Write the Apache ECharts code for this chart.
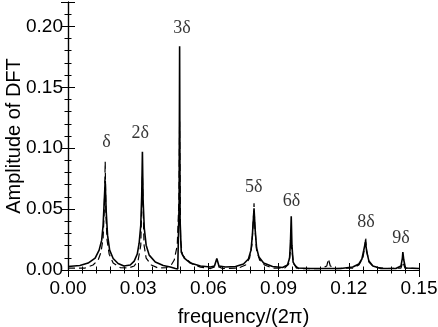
<!DOCTYPE html>
<html>
<head>
<meta charset="utf-8">
<script src="https://cdn.jsdelivr.net/npm/echarts@6/dist/echarts.min.js"></script>
<style>
  html, body { margin: 0; padding: 0; background: #fff; }
  #chart { width: 438px; height: 327px; }
</style>
</head>
<body>
<div id="chart"></div>
<script>
  // solid curve (frequency, amplitude)
  var solidFreq = [0.0000,0.0051,0.0086,0.0116,0.0133,0.0144,0.0150,0.0154,0.0159,0.0163,0.0169,0.0178,0.0193,0.0214,0.0239,0.0266,0.0283,0.0296,0.0304,0.0311,0.0315,0.0318,0.0321,0.0326,0.0334,0.0347,0.0373,0.0407,0.0437,0.0459,0.0469,0.0475,0.0477,0.0479,0.0484,0.0497,0.0523,0.0566,0.0609,0.0626,0.0636,0.0645,0.0673,0.0716,0.0750,0.0771,0.0782,0.0788,0.0795,0.0800,0.0806,0.0816,0.0836,0.0874,0.0917,0.0938,0.0947,0.0951,0.0954,0.0957,0.0962,0.0977,0.1037,0.1101,0.1166,0.1217,0.1243,0.1256,0.1264,0.1271,0.1277,0.1286,0.1303,0.1337,0.1401,0.1423,0.1429,0.1431,0.1435,0.1442,0.1500];
  var solidAmp  = [0.0029,0.0037,0.0057,0.0098,0.0163,0.0245,0.0367,0.0530,0.0735,0.0490,0.0286,0.0163,0.0094,0.0053,0.0033,0.0041,0.0073,0.0131,0.0220,0.0367,0.0610,0.0971,0.0570,0.0343,0.0204,0.0122,0.0065,0.0037,0.0024,0.0012,0.0008,0.0570,0.1837,0.0410,0.0147,0.0098,0.0057,0.0033,0.0024,0.0033,0.0094,0.0033,0.0024,0.0029,0.0049,0.0090,0.0163,0.0286,0.0506,0.0327,0.0180,0.0106,0.0057,0.0029,0.0020,0.0041,0.0098,0.0245,0.0441,0.0204,0.0065,0.0016,0.0012,0.0012,0.0012,0.0024,0.0049,0.0090,0.0163,0.0229,0.0147,0.0073,0.0033,0.0012,0.0012,0.0033,0.0098,0.0147,0.0082,0.0016,0.0012];

  // dashed curve (frequency, amplitude)
  var dashedFreq = [0.0000,0.0073,0.0107,0.0129,0.0141,0.0150,0.0155,0.0159,0.0162,0.0167,0.0176,0.0193,0.0223,0.0257,0.0283,0.0300,0.0311,0.0318,0.0325,0.0334,0.0356,0.0386,0.0420,0.0441,0.0454,0.0467,0.0474,0.0477,0.0481,0.0489,0.0506,0.0531,0.0566,0.0609,0.0636,0.0660,0.0729,0.0759,0.0776,0.0786,0.0793,0.0795,0.0798,0.0806,0.0819,0.0840,0.0874,0.0926,0.0943,0.0954,0.0964,0.0986,0.1080,0.1106,0.1113,0.1121,0.1144,0.1217,0.1243,0.1260,0.1269,0.1272,0.1276,0.1286,0.1307,0.1359,0.1423,0.1431,0.1440,0.1500];
  var dashedAmp  = [0.0016,0.0016,0.0041,0.0082,0.0147,0.0260,0.0490,0.0890,0.0450,0.0245,0.0130,0.0057,0.0020,0.0016,0.0033,0.0082,0.0204,0.0776,0.0204,0.0098,0.0041,0.0016,0.0020,0.0041,0.0082,0.0204,0.0570,0.1220,0.0245,0.0122,0.0090,0.0049,0.0024,0.0012,0.0033,0.0012,0.0016,0.0041,0.0098,0.0204,0.0449,0.0547,0.0367,0.0163,0.0082,0.0041,0.0016,0.0016,0.0049,0.0204,0.0049,0.0012,0.0012,0.0033,0.0090,0.0033,0.0012,0.0016,0.0041,0.0098,0.0196,0.0269,0.0163,0.0065,0.0024,0.0012,0.0016,0.0065,0.0016,0.0012];

  // peak labels and where they sit (data units)
  var peakNames = ['δ', '2δ', '3δ', '5δ', '6δ', '8δ', '9δ'];
  var peakLabelFreq = [0.0165, 0.0309, 0.0487, 0.0794, 0.0955, 0.1273, 0.1423];
  var peakLabelAmp  = [0.1047, 0.1121, 0.1986, 0.0680, 0.0566, 0.0394, 0.0258];

  var xTicks = [0, 0.15, 0.03];   // min, max, interval
  var yTicks = [0, 0.22, 0.05];

  function zip(a, b) {
    return a.map(function (v, i) { return [v, b[i]]; });
  }

  var chart = echarts.init(document.getElementById('chart'), null, {renderer: 'canvas'});

  // ticks point into the plot on all four sides
  var tickStyle = {
    axisLine: {show: true, lineStyle: {color: '#000', width: 1.2}},
    axisTick: {show: true, inside: true, length: 7, lineStyle: {color: '#000'}},
    minorTick: {show: true, splitNumber: 5, length: 3.5, lineStyle: {color: '#000'}},
    splitLine: {show: false}
  };

  var option = {
    animation: false,
    backgroundColor: '#fff',
    grid: {left: 68, right: 19, top: 2, bottom: 57, containLabel: false, outerBoundsMode: 'none'},
    xAxis: [
      Object.assign({
        type: 'value', min: xTicks[0], max: xTicks[1], interval: xTicks[2],
        position: 'bottom',
        name: 'frequency/(2π)', nameLocation: 'middle', nameGap: 37,
        nameTextStyle: {fontFamily: 'Liberation Sans', fontSize: 20, color: '#000'},
        axisLabel: {
          fontFamily: 'Liberation Sans', fontSize: 19, color: '#000', margin: 9,
          formatter: function (v) { return v.toFixed(2); }
        }
      }, tickStyle),
      Object.assign({
        type: 'value', min: xTicks[0], max: xTicks[1], interval: xTicks[2],
        position: 'top', axisLabel: {show: false}
      }, tickStyle)
    ],
    yAxis: [
      Object.assign({
        type: 'value', min: yTicks[0], max: yTicks[1], interval: yTicks[2],
        position: 'left',
        name: 'Amplitude of DFT', nameLocation: 'middle', nameGap: 44,
        nameMoveOverlap: false,
        nameTextStyle: {fontFamily: 'Liberation Sans', fontSize: 20, color: '#000'},
        axisLabel: {
          fontFamily: 'Liberation Sans', fontSize: 19, color: '#000', margin: 5,
          showMaxLabel: false,
          formatter: function (v) { return v.toFixed(2); }
        }
      }, tickStyle),
      Object.assign({
        type: 'value', min: yTicks[0], max: yTicks[1], interval: yTicks[2],
        position: 'right', axisLabel: {show: false}
      }, tickStyle)
    ],
    series: [
      {
        name: 'dashed', type: 'line', xAxisIndex: 0, yAxisIndex: 0,
        data: zip(dashedFreq, dashedAmp),
        showSymbol: false, symbol: 'none',
        lineStyle: {color: '#000', width: 1.2, type: [7, 4]},
        z: 2
      },
      {
        name: 'solid', type: 'line', xAxisIndex: 0, yAxisIndex: 0,
        data: zip(solidFreq, solidAmp),
        showSymbol: false, symbol: 'none',
        lineStyle: {color: '#000', width: 1.6},
        z: 3
      },
      {
        name: 'labels', type: 'scatter', xAxisIndex: 0, yAxisIndex: 0,
        symbolSize: 0,
        data: peakNames.map(function (n, i) {
          return {name: n, value: [peakLabelFreq[i], peakLabelAmp[i]]};
        }),
        label: {
          show: true, position: 'inside', formatter: '{b}',
          fontFamily: 'Liberation Serif', fontSize: 18, color: '#000'
        },
        z: 4
      }
    ]
  };

  option && chart.setOption(option);
</script>
</body>
</html>
